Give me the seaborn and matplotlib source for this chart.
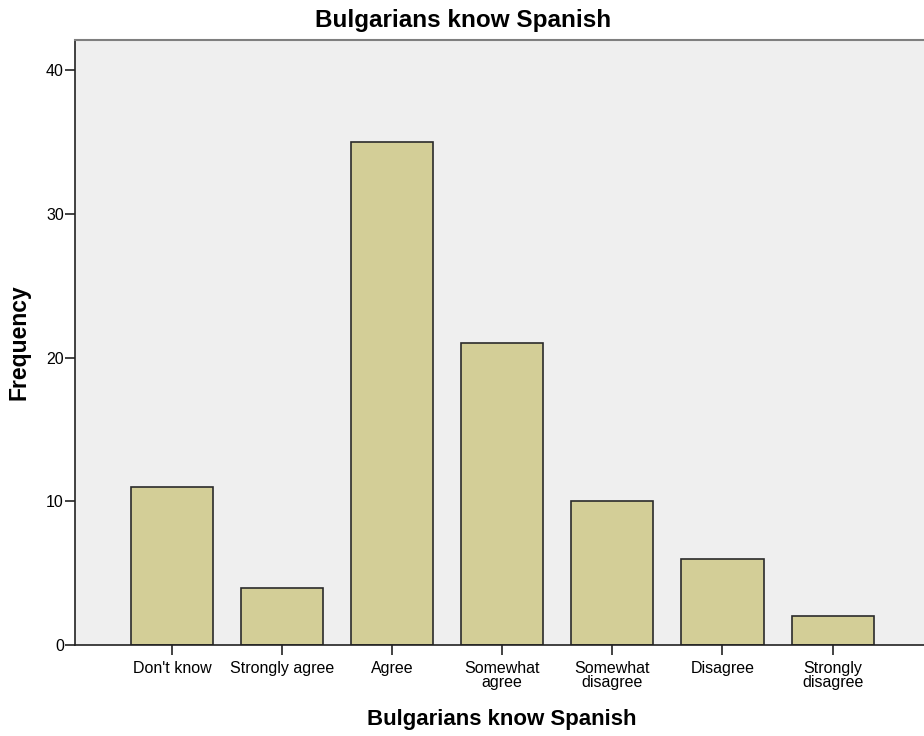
import matplotlib
matplotlib.use("Agg")
import matplotlib.pyplot as plt
import seaborn as sns
import pandas as pd

categories = ["Don't know", "Strongly agree", "Agree", "Somewhat\nagree",
              "Somewhat\ndisagree", "Disagree", "Strongly\ndisagree"]
frequencies = [11, 4, 35, 21, 10, 6, 2]
y_ticks = [0, 10, 20, 30, 40]

df = pd.DataFrame({"category": categories, "frequency": frequencies})

sns.set_theme(style="white")
plt.rcParams["font.family"] = ["Liberation Sans", "DejaVu Sans"]
plt.rcParams["text.color"] = "black"
plt.rcParams["axes.labelcolor"] = "black"
plt.rcParams["xtick.color"] = "black"
plt.rcParams["ytick.color"] = "black"

fig = plt.figure(figsize=(9.24, 7.36), dpi=100)
ax = fig.add_axes([75 / 924, 91 / 736, 1 - 75 / 924, (645 - 40) / 736])
ax.set_facecolor("#efefef")

sns.barplot(data=df, x="category", y="frequency", order=categories,
            color="#d3ce97", saturation=1, edgecolor="#2b2b2b",
            linewidth=1.2, width=0.745, ax=ax)

ax.set_xlim(-0.88, 6.83)
ax.set_ylim(0, 42.09)
ax.set_yticks(y_ticks)
ax.set_yticklabels([str(t) for t in y_ticks], fontsize=11.5)
ax.tick_params(axis="y", direction="out", length=7, width=1.2,
               color="#222222", pad=1, left=True)
ax.tick_params(axis="x", direction="out", length=7.5, width=1.2,
               color="#222222", pad=4, bottom=True, labelsize=11.5)
for lbl in ax.get_xticklabels():
    lbl.set_linespacing(0.95)

for side in ["left", "bottom"]:
    ax.spines[side].set_color("#222222")
    ax.spines[side].set_linewidth(1.2)
ax.spines["top"].set_color("#7f7f7f")
ax.spines["top"].set_linewidth(1.5)
ax.spines["right"].set_visible(False)

ax.set_xlabel("Bulgarians know Spanish", fontsize=16, fontweight="bold")
ax.xaxis.set_label_coords(0.503, -0.106)
ax.set_ylabel("Frequency", fontsize=16.5, fontweight="bold")
ax.yaxis.set_label_coords(-0.052, 0.5)

fig.text(463.5 / 924, (736 - 27) / 736, "Bulgarians know Spanish",
         fontsize=17.5, fontweight="bold", ha="center", va="baseline")

fig.savefig("out.png", dpi=100)
